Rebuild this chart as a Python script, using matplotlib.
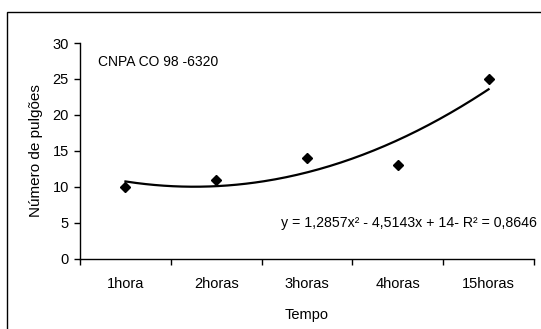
import numpy as np
import matplotlib
matplotlib.use('Agg')
import matplotlib.pyplot as plt
from matplotlib.patches import Rectangle

plt.rcParams['font.family'] = ['Liberation Sans', 'DejaVu Sans']

categories = ['1hora', '2horas', '3horas', '4horas', '15horas']
pulgoes = [10, 11, 14, 13, 25]
equation = 'y = 1,2857x² - 4,5143x + 14- R² = 0,8646'
label = 'CNPA CO 98 -6320'

x = np.arange(1, len(categories) + 1)

# polynomial trendline (order 2), like the Excel one
coef = np.polyfit(x, pulgoes, 2)
xs = np.linspace(1, len(categories), 200)
ys = np.polyval(coef, xs)

fig = plt.figure(figsize=(5.41, 3.29), dpi=100)
ax = fig.add_axes([0.148, 0.2128, 0.839, 0.6565])

# outer chart frame (runs off the right and bottom edges)
fig.patches.append(Rectangle((7 / 541, -0.1), 1.2, 1 - 12 / 329 + 0.1,
                             transform=fig.transFigure, fill=False,
                             edgecolor='black', linewidth=1.0))

ax.plot(xs, ys, color='black', linewidth=1.6, zorder=2)
ax.plot(x, pulgoes, linestyle='none', marker='D', markersize=5.5,
        color='black', zorder=3)

ax.set_xlim(0.5, len(categories) + 0.5)
ax.set_ylim(0, 30)
ax.set_yticks(range(0, 31, 5))
ax.set_xticks(x)
ax.set_xticklabels(categories)
ax.set_xticks(np.arange(0.5, len(categories) + 1, 1), minor=True)
ax.tick_params(axis='x', which='major', length=0, pad=13, labelsize=10.5)
ax.tick_params(axis='x', which='minor', length=4, width=1, direction='out')
ax.tick_params(axis='y', length=4, width=1, direction='out', labelsize=10.5, pad=4)

for s in ['top', 'right']:
    ax.spines[s].set_visible(False)
for s in ['left', 'bottom']:
    ax.spines[s].set_linewidth(1.0)

ax.set_xlabel('Tempo', fontsize=10.5, labelpad=12)
ax.set_ylabel('Número de pulgões', fontsize=11, labelpad=7)

ax.text(0.04, 0.91, label, transform=ax.transAxes, fontsize=10,
        ha='left', va='center')
ax.text(1.006, 0.168, equation, transform=ax.transAxes, fontsize=10.2,
        ha='right', va='center')

fig.savefig('out.png', dpi=100)
